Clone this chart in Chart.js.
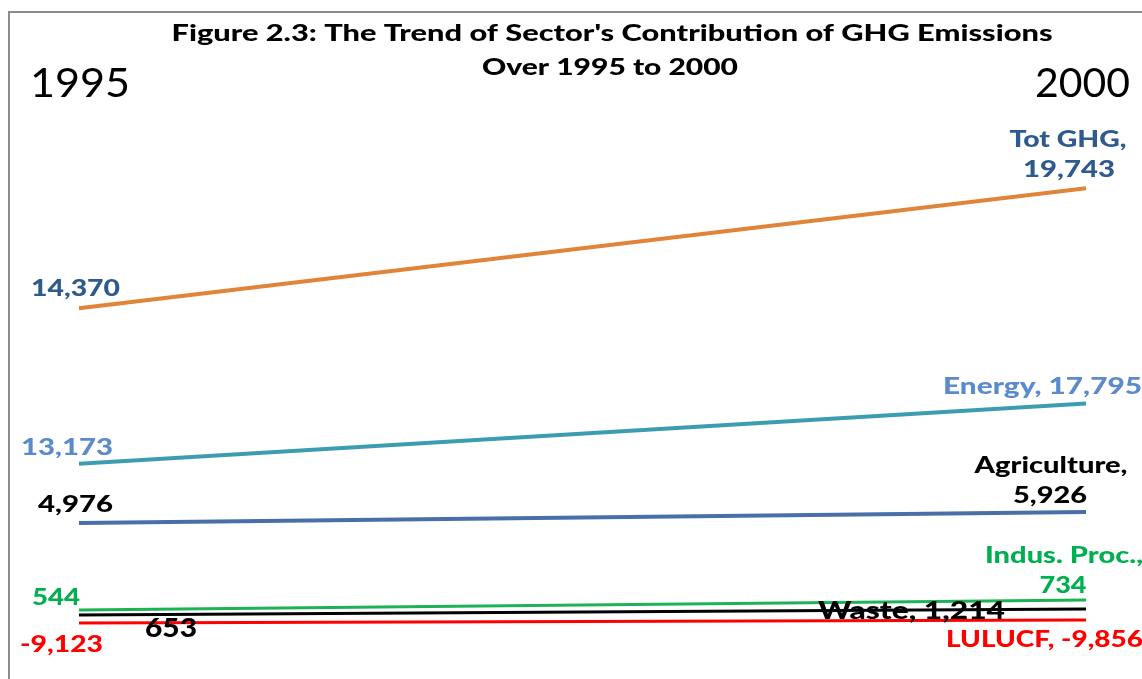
<!DOCTYPE html>
<html>
<head>
<meta charset="utf-8">
<script src="https://cdn.jsdelivr.net/npm/chart.js@4"></script>
<style>
  body { margin: 0; background: #fff; }
  #wrap { width: 1142px; height: 679px; position: relative; }
</style>
</head>
<body>
<div id="wrap"><canvas id="ghgChart"></canvas></div>
<script>
// sectors and their emissions (Gg CO2 eq) as labelled in the figure
let years = ['1995', '2000'];
let sectors = ['Tot GHG', 'Energy', 'Agriculture', 'Indus. Proc.', 'Waste', 'LULUCF'];
let values1995 = [14370, 13173, 4976, 544, 653, -9123];
let values2000 = [19743, 17795, 5926, 734, 1214, -9856];

// the figure is not drawn to scale: line heights as drawn, read off
// against the Tot GHG line (the only one that matches its labels)
let drawn1995 = [14370, 7400, 4750, 850, 630, 270];
let drawn2000 = [19743, 10100, 5240, 1300, 900, 400];

let lineColors = ['#e0843a', '#3c9db2', '#4a6fa8', '#1db254', '#000000', '#ff0000'];
let lineWidths = [4, 4, 4, 3, 3, 3];
let labelColors = ['#2e5a8e', '#5b8bcb', '#000000', '#00b050', '#000000', '#ff0000'];

function fmt(v) {
    return v.toLocaleString('en-US');
}

// text is drawn stretched to the width it takes in the figure
function drawText(ctx, t) {
    ctx.save();
    ctx.font = (t.bold ? '900 ' : '') + t.size + 'px Lato';
    let w = ctx.measureText(t.text).width;
    let sx = t.width / w;
    let x0 = t.align === 'center' ? t.x - t.width / 2 : t.x;
    ctx.translate(x0, t.y);
    ctx.scale(sx, 1);
    ctx.fillStyle = t.color;
    ctx.textAlign = 'left';
    ctx.textBaseline = 'alphabetic';
    ctx.fillText(t.text, 0, 0);
    ctx.restore();
}

// left labels: [x, baseline, width, size]
let leftPos = [
    [31, 296, 89, 22],
    [21, 455, 92, 22],
    [38, 512, 75, 22],
    [32, 605, 48, 22],
    [145, 637, 52, 27],
    [20, 652, 83, 22]
];

function rightTexts() {
    let out = [];
    let c = labelColors;
    out.push({ text: sectors[0] + ',', x: 1068, y: 147, width: 117, size: 22, align: 'center', color: c[0] });
    out.push({ text: fmt(values2000[0]), x: 1069, y: 177, width: 92, size: 22, align: 'center', color: c[0] });
    out.push({ text: sectors[1] + ', ' + fmt(values2000[1]), x: 943, y: 394, width: 199, size: 22, color: c[1] });
    out.push({ text: sectors[2] + ',', x: 1051, y: 473, width: 153, size: 22, align: 'center', color: c[2] });
    out.push({ text: fmt(values2000[2]), x: 1050, y: 503, width: 74, size: 22, align: 'center', color: c[2] });
    out.push({ text: sectors[3] + ',', x: 985, y: 563, width: 158, size: 22, color: c[3] });
    out.push({ text: fmt(values2000[3]), x: 1063, y: 593, width: 47, size: 22, align: 'center', color: c[3] });
    out.push({ text: sectors[4] + ', ' + fmt(values2000[4]), x: 818, y: 619, width: 187, size: 25, color: c[4] });
    out.push({ text: sectors[5] + ', ' + fmt(values2000[5]), x: 946, y: 647, width: 197, size: 22, color: c[5] });
    return out;
}

let figurePlugin = {
    id: 'figureText',
    beforeDraw(chart) {
        let ctx = chart.ctx;
        ctx.save();
        ctx.strokeStyle = '#8c8c8c';
        ctx.lineWidth = 2;
        ctx.beginPath();
        ctx.moveTo(9, 680);
        ctx.lineTo(9, 12);
        ctx.lineTo(1142, 12);
        ctx.stroke();
        ctx.restore();

        drawText(ctx, { text: "Figure 2.3: The Trend of Sector's Contribution of GHG Emissions", x: 612, y: 41, width: 881, size: 23, bold: true, align: 'center', color: '#000' });
        drawText(ctx, { text: 'Over ' + years[0] + ' to ' + years[1], x: 610, y: 75, width: 256, size: 23, bold: true, align: 'center', color: '#000' });
        drawText(ctx, { text: years[0], x: 30, y: 97, width: 100, size: 40, color: '#000' });
        drawText(ctx, { text: years[1], x: 1035, y: 97, width: 95, size: 40, color: '#000' });
    },
    afterDatasetsDraw(chart) {
        let ctx = chart.ctx;
        values1995.forEach((v, i) => {
            let p = leftPos[i];
            drawText(ctx, { text: fmt(v), x: p[0], y: p[1], width: p[2], size: p[3], bold: true, color: labelColors[i] });
        });
        rightTexts().forEach(t => {
            t.bold = true;
            drawText(ctx, t);
        });
    }
};

let ctx = document.querySelector('#ghgChart');
let datasets = sectors.map((s, i) => ({
    label: s,
    data: [drawn1995[i], drawn2000[i]],
    borderColor: lineColors[i],
    backgroundColor: lineColors[i],
    borderWidth: lineWidths[i],
    borderCapStyle: 'butt',
    pointRadius: 0,
    tension: 0,
    order: i
}));

var ghgChart = new Chart(ctx, {
    type: 'line',
    data: {
        labels: years,
        datasets: datasets
    },
    options: {
        responsive: true,
        maintainAspectRatio: false,
        animation: false,
        layout: { padding: { left: 79, right: 56, top: 180, bottom: 25 } },
        scales: {
            x: { display: false, offset: false },
            y: { display: false, min: -1120, max: 20115 }
        },
        plugins: {
            legend: { display: false },
            title: { display: false },
            tooltip: { enabled: false }
        }
    },
    plugins: [figurePlugin]
});
</script>
</body>
</html>
